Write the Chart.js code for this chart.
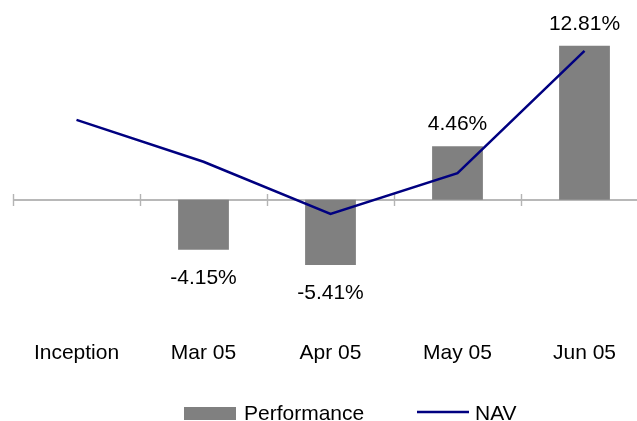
<!DOCTYPE html>
<html>
<head>
<meta charset="utf-8">
<script src="https://cdn.jsdelivr.net/npm/chart.js@4/dist/chart.umd.min.js"></script>
<style>
    html, body { margin: 0; padding: 0; background: #fff; overflow: hidden; }
    #wrap { position: relative; width: 700px; height: 421px; }
</style>
</head>
<body>
<div id="wrap"><canvas id="navChart"></canvas></div>
<script>
const categories = ['Inception', 'Mar 05', 'Apr 05', 'May 05', 'Jun 05'];
const performance = [null, -4.15, -5.41, 4.46, 12.81];
const nav = [100, 95.85, 90.67, 94.71, 106.84];

const FONT = "21px 'Liberation Sans', Arial, sans-serif";
Chart.defaults.font.family = "'Liberation Sans', Arial, sans-serif";
Chart.defaults.font.size = 21;
Chart.defaults.color = '#000';

// zero line with tick marks between the months
const zeroAxis = {
    id: 'zeroAxis',
    beforeDatasetsDraw(chart) {
        const ctx = chart.ctx;
        const x = chart.scales.x;
        const y0 = Math.round(chart.scales.y.getPixelForValue(0));
        const half = (x.getPixelForValue(1) - x.getPixelForValue(0)) / 2;
        ctx.save();
        ctx.strokeStyle = '#a0a0a0';
        ctx.lineWidth = 1.6;
        ctx.beginPath();
        ctx.moveTo(chart.chartArea.left, y0);
        ctx.lineTo(chart.chartArea.right, y0);
        ctx.stroke();
        ctx.strokeStyle = '#b4b4b4';
        ctx.lineWidth = 1.4;
        ctx.beginPath();
        for (let i = 0; i <= categories.length; i++) {
            const tx = Math.round(x.getPixelForValue(i) - half) + 0.5;
            ctx.moveTo(tx, y0 - 6);
            ctx.lineTo(tx, y0 + 6);
        }
        ctx.stroke();
        ctx.restore();
    }
};

// percentage labels above / below the bars
const barLabels = {
    id: 'barLabels',
    afterDatasetsDraw(chart) {
        const ctx = chart.ctx;
        const meta = chart.getDatasetMeta(1);
        ctx.save();
        ctx.font = FONT;
        ctx.fillStyle = '#000';
        ctx.textAlign = 'center';
        ctx.textBaseline = 'alphabetic';
        meta.data.forEach((bar, i) => {
            const v = performance[i];
            if (v === null) return;
            const ty = v >= 0 ? bar.y - 16 : bar.y + 34;
            ctx.fillText(v.toFixed(2) + '%', bar.x, ty);
        });
        ctx.restore();
    }
};

// legend under the axis labels
const bottomLegend = {
    id: 'bottomLegend',
    afterDraw(chart) {
        const ctx = chart.ctx;
        const base = 420;
        ctx.save();
        ctx.font = FONT;
        ctx.fillStyle = '#808080';
        ctx.fillRect(184, 407, 52, 13);
        ctx.strokeStyle = '#000080';
        ctx.lineWidth = 2.5;
        ctx.beginPath();
        ctx.moveTo(417, 412);
        ctx.lineTo(469, 412);
        ctx.stroke();
        ctx.fillStyle = '#000';
        ctx.textBaseline = 'alphabetic';
        ctx.fillText('Performance', 244, base);
        ctx.fillText('NAV', 475, base);
        ctx.restore();
    }
};

new Chart(document.getElementById('navChart'), {
    type: 'bar',
    data: {
        labels: categories,
        datasets: [{
            type: 'line',
            label: 'NAV',
            data: nav,
            yAxisID: 'y2',
            borderColor: '#000080',
            borderWidth: 2.5,
            pointRadius: 0,
            tension: 0,
            order: 1
        }, {
            label: 'Performance',
            data: performance,
            yAxisID: 'y',
            backgroundColor: '#808080',
            categoryPercentage: 1,
            barPercentage: 0.4,
            order: 2
        }]
    },
    options: {
        responsive: true,
        maintainAspectRatio: false,
        animation: false,
        layout: { padding: { left: 13, right: 52, top: 10, bottom: 34 } },
        scales: {
            x: {
                offset: true,
                grid: { display: false, drawTicks: false },
                border: { display: false },
                ticks: { padding: 21, color: '#000' }
            },
            y: {
                display: false,
                min: -9.975,
                max: 15.79
            },
            y2: {
                display: false,
                min: 80.18,
                max: 110.90
            }
        },
        plugins: {
            tooltip: { enabled: false },
            legend: { display: false }
        }
    },
    plugins: [zeroAxis, barLabels, bottomLegend]
});
</script>
</body>
</html>
